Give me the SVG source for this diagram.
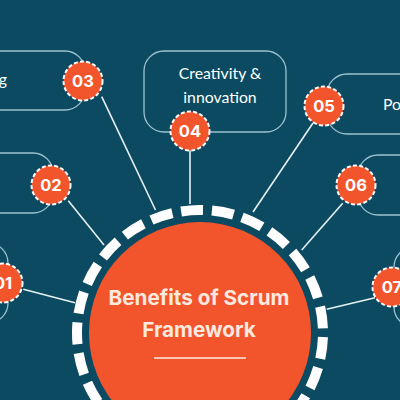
<svg xmlns="http://www.w3.org/2000/svg" width="400" height="400" viewBox="0 0 400 400">
<style>
.box{fill:none;stroke:#9cc3d0;stroke-width:1.3}
.con{stroke:#e6f1f4;stroke-width:1.6;fill:none}
.badge{fill:#f2552c;stroke:#ffffff;stroke-width:2;stroke-dasharray:4 2.3}
.num{font-family:Inter,"Liberation Sans",sans-serif;font-weight:700;font-size:16.5px;fill:#ffffff;text-anchor:middle}
.lbl{font-family:Lato,"Liberation Sans",sans-serif;font-size:15.8px;fill:#ffffff}
.title{font-family:Inter,"Liberation Sans",sans-serif;font-weight:700;font-size:20.7px;fill:#fde9df;text-anchor:middle}
</style>
<rect width="400" height="400" fill="#0c4a61"/>
<g id="connectors">
<line class="con" x1="101.7" y1="96.7" x2="155.5" y2="210"/>
<line class="con" x1="190" y1="150" x2="190" y2="204"/>
<line class="con" x1="313" y1="123" x2="253" y2="212"/>
<line class="con" x1="68.3" y1="200.7" x2="104" y2="245"/>
<line class="con" x1="342.7" y1="203.3" x2="301.7" y2="250"/>
<line class="con" x1="23.3" y1="289.3" x2="75" y2="302.7"/>
<line class="con" x1="375" y1="297.7" x2="326.7" y2="309.3"/>
</g>
<g id="center">
<circle cx="200" cy="333" r="123" fill="none" stroke="#ffffff" stroke-width="10" stroke-dasharray="22 8.91" stroke-dashoffset="-4.04"/>
<circle cx="200" cy="333" r="111" fill="#f2552c"/>
<text class="title" x="199" y="305">Benefits of Scrum</text>
<text class="title" x="199" y="337">Framework</text>
<line x1="154" y1="358" x2="246" y2="358" stroke="#fde9df" stroke-width="1.6"/>
</g>
<g id="node01">
<rect class="box" x="-100" y="243" width="108" height="80" rx="20"/>
<circle class="badge" cx="3" cy="283" r="19.5"/>
<text class="num" x="3" y="289">01</text>
</g>
<g id="node02">
<rect class="box" x="-50" y="153" width="103" height="60" rx="20"/>
<circle class="badge" cx="51" cy="185" r="19.5"/>
<text class="num" x="51" y="191">02</text>
</g>
<g id="node03">
<rect class="box" x="-30" y="51" width="115" height="59" rx="20"/>
<text class="lbl" x="7" y="85" text-anchor="end">g</text>
<circle class="badge" cx="83" cy="81" r="19.5"/>
<text class="num" x="83" y="87">03</text>
</g>
<g id="node04">
<rect class="box" x="144" y="51" width="142" height="81" rx="20"/>
<text class="lbl" x="220" y="79" text-anchor="middle">Creativity &amp;</text>
<text class="lbl" x="220" y="103" text-anchor="middle">innovation</text>
<circle class="badge" cx="190" cy="131" r="19.5"/>
<text class="num" x="190" y="137">04</text>
</g>
<g id="node05">
<rect class="box" x="327" y="74" width="100" height="60" rx="20"/>
<text class="lbl" x="383" y="110">Po</text>
<circle class="badge" cx="324" cy="106" r="19.5"/>
<text class="num" x="324" y="112">05</text>
</g>
<g id="node06">
<rect class="box" x="358" y="155" width="80" height="60" rx="20"/>
<circle class="badge" cx="356" cy="185" r="19.5"/>
<text class="num" x="356" y="191">06</text>
</g>
<g id="node07">
<rect class="box" x="394" y="247" width="80" height="80" rx="20"/>
<circle class="badge" cx="392" cy="287" r="19.5"/>
<text class="num" x="392" y="293">07</text>
</g>
</svg>
